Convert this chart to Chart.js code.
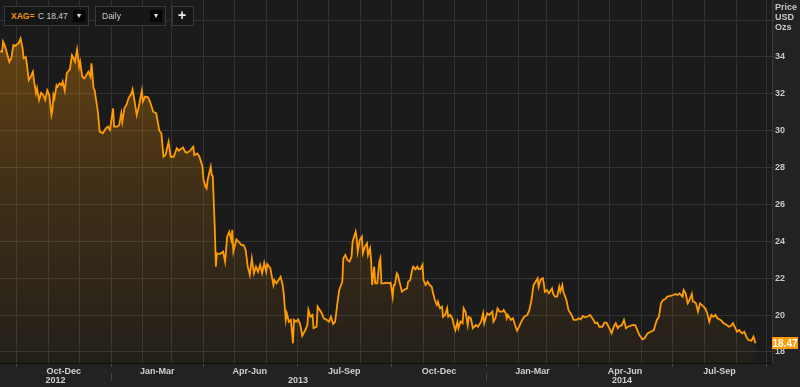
<!DOCTYPE html>
<html>
<head>
<meta charset="utf-8">
<script src="https://cdn.jsdelivr.net/npm/chart.js@4.4.1/dist/chart.umd.min.js"></script>
<style>
  html, body { margin: 0; padding: 0; background: #222; }
  #wrap { position: relative; width: 800px; height: 387px; font-family: "Liberation Sans", Arial, sans-serif; }
  #wrap canvas { position: absolute; left: 0; top: 0; }
  .box { position: absolute; background: #161616; border: 1px solid #3a3a3a; box-sizing: border-box; height: 20px; top: 6px; font-size: 8.5px; color: #ccc; }
  .box span { position: absolute; top: 4px; line-height: 10px; }
  .btn { position: absolute; top: 3px; width: 12px; height: 12px; background: #050505; color: #ddd; font-size: 7px; text-align: center; line-height: 12px; }
  .axtitle { position: absolute; left: 775px; top: 2px; font-size: 9px; font-weight: bold; color: #c8c8c8; line-height: 10px; }
</style>
</head>
<body>
<div id="wrap">
  <canvas id="chartXag" width="800" height="387"></canvas>
  <div class="box" style="left:4px;width:85px;">
    <span style="left:6px;color:#f0960a;font-weight:bold;font-size:8.5px;">XAG=</span>
    <span style="left:33px;">C 18.47</span>
    <div class="btn" style="left:68px;">&#9660;</div>
  </div>
  <div class="box" style="left:95px;width:71px;">
    <span style="left:6px;">Daily</span>
    <div class="btn" style="left:54px;">&#9660;</div>
  </div>
  <div class="box" style="left:172px;width:22px;">
    <span style="left:5px;top:1px;font-size:14px;font-weight:bold;color:#eee;line-height:14px;">+</span>
  </div>
  <div class="axtitle">Price<br>USD<br>Ozs</div>
</div>
<script>
"use strict";

// day 0 = 2012-09-15
var dayOffsets = [
  0, 2, 3, 5, 7, 9, 11, 13, 15, 17, 18, 20, 22, 23, 25, 26, 28, 30, 32, 33,
  35, 36, 38, 40, 42, 44, 46, 48, 50, 51, 52, 53, 55, 56, 58, 60, 61, 63, 65, 66,
  68, 70, 71, 73, 75, 77, 78, 80, 82, 84, 86, 88, 89, 91, 92, 95, 97, 100, 103, 105,
  107, 110, 111, 114, 116, 118, 119, 121, 123, 125, 128, 129, 131, 133, 135, 138, 139, 141, 144, 146,
  149, 152, 155, 157, 159, 161, 164, 166, 169, 172, 174, 178, 180, 182, 185, 188, 189, 192, 194, 197,
  198, 200, 201, 202, 205, 206, 207, 209, 210, 211, 214, 217, 219, 221, 223, 225, 226, 227, 230, 232,
  235, 237, 239, 241, 243, 245, 247, 249, 251, 253, 255, 257, 259, 260, 263, 266, 267, 269, 271, 273,
  275, 276, 278, 279, 281, 283, 285, 286, 288, 290, 292, 294, 297, 299, 300, 302, 304, 305, 308, 309,
  310, 313, 315, 318, 320, 322, 324, 326, 328, 330, 333, 334, 336, 338, 340, 342, 343, 345, 346, 347,
  348, 350, 352, 353, 355, 357, 358, 360, 361, 362, 364, 365, 367, 369, 370, 371, 373, 376, 378, 380,
  382, 383, 384, 386, 387, 389, 391, 393, 396, 397, 399, 401, 402, 404, 406, 407, 409, 411, 412, 414,
  416, 418, 420, 421, 423, 425, 426, 428, 430, 431, 433, 435, 436, 438, 440, 441, 443, 445, 446, 448,
  450, 451, 453, 455, 456, 458, 460, 463, 465, 468, 470, 471, 474, 476, 479, 480, 482, 484, 486, 489,
  490, 492, 493, 494, 497, 499, 501, 503, 505, 508, 510, 513, 515, 517, 519, 521, 523, 524, 526, 528,
  529, 530, 532, 534, 537, 538, 540, 542, 544, 545, 547, 548, 551, 553, 556, 558, 561, 563, 565, 567,
  569, 571, 574, 577, 579, 581, 583, 586, 588, 590, 592, 595, 597, 599, 601, 602, 605, 607, 609, 611,
  615, 618, 620, 622, 625, 627, 630, 633, 636, 638, 639, 641, 643, 645, 647, 649, 652, 655, 657, 659,
  661, 664, 665, 667, 669, 670, 673, 674, 675, 677, 679, 681, 684, 686, 688, 690, 692, 694, 696, 698,
  701, 704, 707, 709, 711, 713, 715, 717, 719, 722, 724, 726, 728, 731, 733, 735
];

var prices = [
  34.30, 34.28, 34.83, 34.56, 34.16, 33.74, 33.94, 34.65, 34.60, 34.70, 34.74, 35.00, 34.47, 33.93, 34.00, 33.66, 32.75, 32.93, 33.20, 32.75,
  32.03, 32.30, 31.67, 32.06, 31.94, 31.67, 32.20, 31.94, 30.85, 31.12, 31.94, 31.76, 32.47, 32.39, 32.57, 32.47, 32.66, 32.17, 33.11, 33.20,
  33.33, 34.10, 34.01, 33.74, 34.40, 33.47, 33.74, 32.93, 32.84, 33.02, 33.20, 32.93, 33.66, 32.30, 32.20, 31.12, 29.95, 29.86, 30.13, 30.22,
  30.04, 31.21, 30.22, 30.22, 30.31, 30.94, 30.49, 31.21, 31.40, 31.76, 32.03, 32.24, 31.57, 30.85, 31.30, 32.17, 31.57, 31.85, 31.81, 31.57,
  31.03, 30.94, 30.00, 29.86, 28.59, 28.68, 29.40, 28.59, 28.59, 29.05, 28.92, 29.10, 28.86, 28.81, 28.92, 29.13, 28.68, 28.77, 28.59, 28.05,
  27.33, 26.96, 26.87, 27.33, 28.05, 27.60, 27.54, 24.62, 22.63, 23.35, 23.31, 23.44, 22.90, 24.25, 24.52, 24.07, 24.62, 23.44, 24.11, 23.98,
  23.80, 23.80, 23.53, 22.63, 22.18, 23.08, 22.27, 22.63, 22.35, 22.72, 22.27, 22.84, 22.35, 22.77, 22.54, 21.63, 21.90, 21.72, 21.90, 22.08,
  21.63, 21.18, 19.74, 20.10, 19.64, 19.74, 18.47, 19.74, 19.64, 19.77, 19.50, 18.88, 19.19, 19.46, 20.28, 19.91, 20.01, 19.29, 19.37, 20.46,
  20.37, 20.10, 19.83, 19.74, 19.64, 19.91, 19.52, 19.64, 20.55, 21.36, 21.81, 23.08, 23.26, 22.99, 22.90, 23.17, 23.98, 24.34, 24.52, 24.17,
  23.44, 24.07, 24.25, 23.35, 23.71, 23.89, 23.26, 23.62, 22.99, 21.63, 22.63, 21.72, 21.72, 22.90, 23.08, 21.72, 21.72, 21.76, 21.72, 21.76,
  21.00, 21.63, 21.63, 22.27, 22.18, 21.72, 21.27, 21.36, 21.45, 21.81, 21.90, 22.45, 22.63, 22.49, 22.63, 22.49, 22.49, 22.72, 21.90, 21.63,
  21.81, 21.63, 21.54, 21.27, 20.82, 20.55, 20.73, 20.37, 20.46, 19.91, 20.01, 20.37, 19.91, 20.01, 19.83, 19.56, 19.19, 19.64, 19.29, 19.65,
  19.56, 20.37, 20.15, 19.46, 19.91, 19.83, 19.29, 19.46, 19.37, 19.64, 20.10, 19.56, 20.10, 20.01, 20.19, 19.64, 19.83, 20.37, 20.19, 20.19,
  20.28, 20.10, 19.83, 20.01, 19.74, 19.83, 19.46, 19.15, 19.37, 19.74, 19.91, 20.01, 20.28, 20.82, 21.63, 21.81, 22.00, 21.54, 21.94, 22.00,
  21.72, 21.27, 21.36, 21.18, 21.45, 21.18, 21.00, 21.00, 21.54, 21.27, 21.63, 21.27, 20.82, 20.28, 20.01, 19.74, 19.74, 19.83, 19.77, 19.95,
  19.88, 19.91, 20.01, 19.77, 19.56, 19.59, 19.37, 19.37, 19.59, 19.59, 19.37, 19.01, 19.37, 19.56, 19.29, 19.37, 19.46, 19.74, 19.29, 19.37,
  19.46, 19.46, 19.19, 18.92, 18.69, 18.74, 19.01, 19.10, 19.19, 19.56, 19.74, 19.91, 20.64, 20.82, 20.86, 21.00, 21.04, 21.09, 21.15, 21.09,
  21.18, 21.00, 21.36, 21.18, 20.64, 20.73, 21.15, 20.73, 20.73, 20.64, 20.19, 20.64, 20.49, 20.37, 20.10, 19.64, 20.01, 19.91, 20.01, 19.83,
  19.74, 19.56, 19.46, 19.37, 19.41, 19.56, 19.34, 19.10, 19.19, 19.01, 19.10, 18.83, 18.65, 18.61, 18.83, 18.47
];

// month starts (days after 2012-09-15), quarter boundaries, label positions
var monthStarts = [16, 47, 77, 108, 139, 167, 198, 228, 259, 289, 320, 351, 381, 412, 442, 473, 504, 532, 563, 593, 624, 654, 685, 716, 746];
var quarterStarts = [16, 108, 198, 289, 381, 473, 563, 654, 746];
var quarterMids = [62, 153, 243, 335, 427, 518, 608, 700];
var quarterLabels = ['Oct-Dec', 'Jan-Mar', 'Apr-Jun', 'Jul-Sep', 'Oct-Dec', 'Jan-Mar', 'Apr-Jun', 'Jul-Sep'];
var yearPos = [54, 290, 605];
var yearLabels = ['2012', '2013', '2014'];
var yearBreaks = [108, 473];
var yTicks = [18, 20, 22, 24, 26, 28, 30, 32, 34, 36];

var xTickValues = monthStarts.concat(quarterMids, yearPos).sort(function(a, b) { return a - b; });

var TICK_FONT = { family: '"Liberation Sans", Arial, sans-serif', size: 9, weight: 'bold', lineHeight: 1.0 };

function noPad(s) {
  s.paddingTop = 0; s.paddingBottom = 0; s.paddingLeft = 0; s.paddingRight = 0;
}

var decor = {
  id: 'decor',
  beforeDraw: function(chart) {
    var a = chart.chartArea, ctx = chart.ctx;
    ctx.save();
    ctx.fillStyle = '#1b1b1b';
    ctx.fillRect(a.left, a.top, a.right - a.left, a.bottom - a.top);
    ctx.restore();
  },
  afterDraw: function(chart) {
    var a = chart.chartArea, ctx = chart.ctx;
    var xs = chart.scales.x, ys = chart.scales.y;
    ctx.save();
    ctx.strokeStyle = '#444';
    ctx.lineWidth = 1;
    yearBreaks.forEach(function(d) {
      var px = Math.round(xs.getPixelForValue(d)) + 0.5;
      ctx.beginPath();
      ctx.moveTo(px, a.bottom + 10);
      ctx.lineTo(px, a.bottom + 18);
      ctx.stroke();
    });
    var last = prices[prices.length - 1];
    var py = Math.round(ys.getPixelForValue(last));
    ctx.fillStyle = '#ff9a00';
    ctx.fillRect(a.right, py - 6, 26, 12);
    ctx.fillStyle = '#fff';
    ctx.font = 'bold 10px "Liberation Sans", Arial, sans-serif';
    ctx.textAlign = 'center';
    ctx.textBaseline = 'middle';
    ctx.fillText(last.toFixed(2), a.right + 13, py + 1);
    ctx.restore();
  }
};

new Chart(document.getElementById('chartXag'), {
  type: 'line',
  data: {
    datasets: [{
      label: 'XAG=',
      data: dayOffsets.map(function(d, i) { return { x: d, y: prices[i] }; }),
      borderColor: '#ff9c00',
      borderWidth: 1.8,
      pointRadius: 0,
      tension: 0,
      fill: 'start',
      backgroundColor: function(ctx) {
        var a = ctx.chart.chartArea;
        if (!a) return 'rgba(255,156,0,0.2)';
        var g = ctx.chart.ctx.createLinearGradient(0, a.top, 0, a.bottom);
        g.addColorStop(0, 'rgba(255,150,0,0.36)');
        g.addColorStop(0.5, 'rgba(255,150,0,0.17)');
        g.addColorStop(1, 'rgba(255,150,0,0.03)');
        return g;
      }
    }]
  },
  options: {
    responsive: false,
    animation: false,
    layout: { padding: 0 },
    plugins: { legend: { display: false }, tooltip: { enabled: false } },
    scales: {
      x: {
        type: 'linear',
        min: 0,
        max: 751,
        afterBuildTicks: function(s) { s.ticks = xTickValues.map(function(v) { return { value: v }; }); },
        afterFit: function(s) { s.height = 24; noPad(s); },
        border: { color: '#0e0e0e', width: 1 },
        grid: {
          color: function(c) { return c.tick && monthStarts.indexOf(c.tick.value) >= 0 ? '#333' : 'rgba(0,0,0,0)'; },
          tickColor: function(c) { return c.tick && quarterStarts.indexOf(c.tick.value) >= 0 ? '#4a4a4a' : 'rgba(0,0,0,0)'; },
          drawTicks: true,
          tickLength: 4
        },
        ticks: {
          autoSkip: false,
          maxRotation: 0,
          minRotation: 0,
          padding: 0,
          color: '#cfcfcf',
          font: TICK_FONT,
          callback: function(v) {
            var i = quarterMids.indexOf(v);
            if (i >= 0) return quarterLabels[i];
            var j = yearPos.indexOf(v);
            if (j >= 0) return ['', yearLabels[j]];
            return '';
          }
        }
      },
      y: {
        position: 'right',
        min: 17.403,
        max: 37.09,
        afterBuildTicks: function(s) { s.ticks = yTicks.map(function(v) { return { value: v }; }); },
        afterFit: function(s) { s.width = 28; noPad(s); },
        border: { color: '#3a3a3a', width: 1 },
        grid: { color: '#333', tickColor: '#3a3a3a', drawTicks: true, tickLength: 3 },
        ticks: {
          padding: 0,
          color: '#c8c8c8',
          font: TICK_FONT,
          callback: function(v) { return v === 36 ? '' : v; }
        }
      }
    }
  },
  plugins: [decor]
});
</script>
</body>
</html>
